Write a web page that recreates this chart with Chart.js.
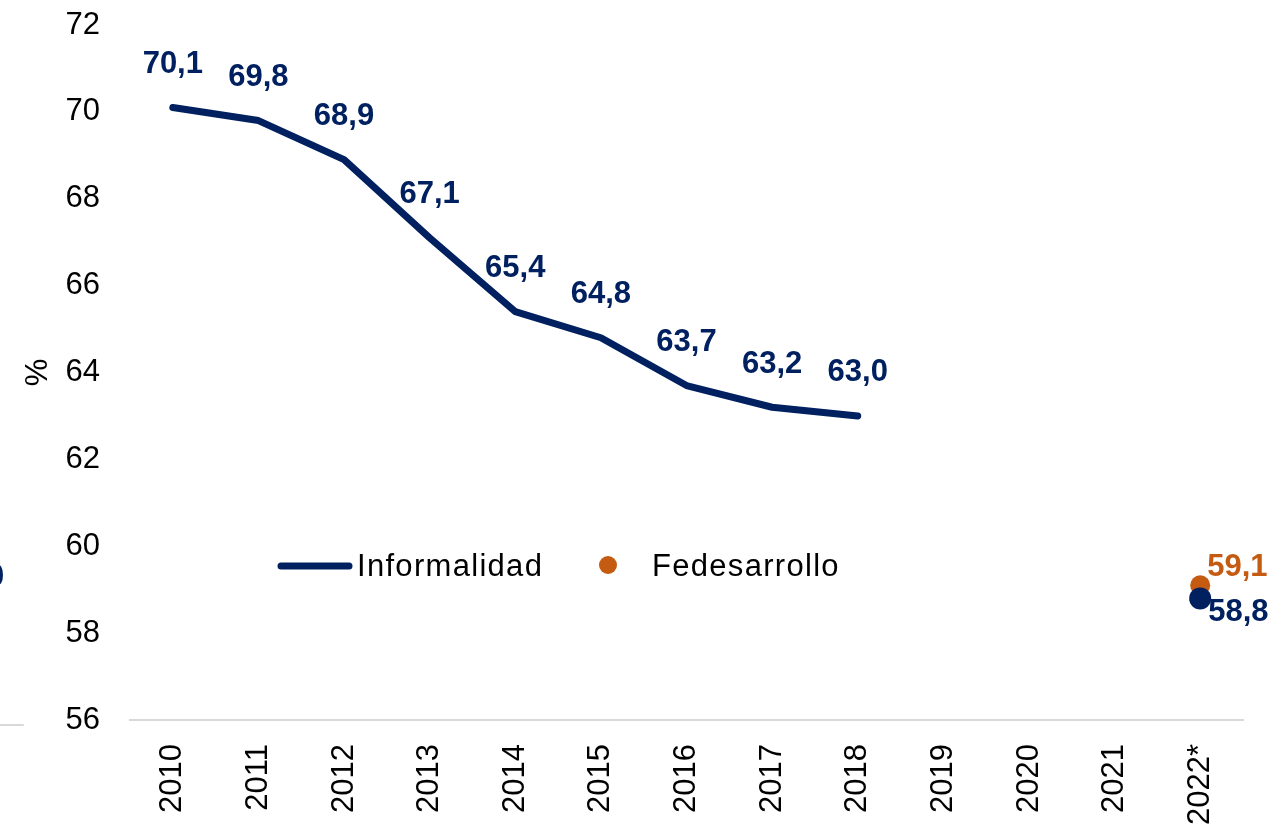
<!DOCTYPE html>
<html>
<head>
<meta charset="utf-8">
<script src="https://cdn.jsdelivr.net/npm/chart.js@4"></script>
<style>
html,body{margin:0;padding:0;background:#fff;}
</style>
</head>
<body>
<canvas id="chart" width="1288" height="835"></canvas>
<script>
// data
const years = ['2010','2011','2012','2013','2014','2015','2016','2017','2018','2019','2020','2021','2022*'];
const informalidad = [70.1, 69.8, 68.9, 67.1, 65.4, 64.8, 63.7, 63.2, 63.0, null, null, null, 58.8];
const fedesarrollo = [null, null, null, null, null, null, null, null, null, null, null, null, 59.1];
const yMin = 56, yMax = 72, yStep = 2;

const NAVY = '#002060';
const ORANGE = '#C55A11';
const FONT = '"Liberation Sans", Arial, sans-serif';

function fmt(v) {
    return v.toFixed(1).replace('.', ',');
}

// value labels (no datalabels plugin offline)
const valueLabels = {
    id: 'valueLabels',
    afterDatasetsDraw(chart) {
        const ctx = chart.ctx;
        ctx.save();
        ctx.font = 'bold 31px ' + FONT;
        chart.data.datasets.forEach((ds, i) => {
            const meta = chart.getDatasetMeta(i);
            ctx.fillStyle = ds.borderColor;
            meta.data.forEach((pt, j) => {
                const v = ds.data[j];
                if (v === null || v === undefined) return;
                const pos = ds.labelPos(j);
                ctx.textBaseline = 'middle';
                if (pos === 'above') {
                    ctx.textAlign = 'center';
                    ctx.fillText(fmt(v), pt.x, pt.y - 43);
                } else if (pos === 'rightBelow') {
                    ctx.textAlign = 'left';
                    ctx.fillText(fmt(v), pt.x + 8, pt.y + 14);
                } else {
                    ctx.textAlign = 'left';
                    ctx.fillText(fmt(v), pt.x + 7, pt.y - 18);
                }
            });
        });
        ctx.restore();
    }
};

// legend sits inside the plot area
const innerLegend = {
    id: 'innerLegend',
    afterDraw(chart) {
        const ctx = chart.ctx;
        const y = 566;
        ctx.save();
        ctx.lineCap = 'round';
        ctx.strokeStyle = NAVY;
        ctx.lineWidth = 7;
        ctx.beginPath();
        ctx.moveTo(281, y);
        ctx.lineTo(349, y);
        ctx.stroke();

        ctx.fillStyle = ORANGE;
        ctx.beginPath();
        ctx.arc(608, y - 1, 9, 0, Math.PI * 2);
        ctx.fill();

        ctx.font = '31px ' + FONT;
        ctx.letterSpacing = '1.3px';
        ctx.fillStyle = '#000';
        ctx.textAlign = 'left';
        ctx.textBaseline = 'middle';
        ctx.fillText('Informalidad', 357, y + 1);
        ctx.fillText('Fedesarrollo', 652, y + 1);

        // fragment of the neighbouring chart at the left edge
        ctx.letterSpacing = '0px';
        ctx.strokeStyle = '#d9d9d9';
        ctx.lineWidth = 2;
        ctx.beginPath();
        ctx.moveTo(0, 725);
        ctx.lineTo(23, 725);
        ctx.stroke();
        ctx.font = 'bold 31px ' + FONT;
        ctx.fillStyle = NAVY;
        ctx.fillText('0', -13, 577);
        ctx.restore();
    }
};

new Chart(document.getElementById('chart'), {
    type: 'line',
    data: {
        labels: years,
        datasets: [{
            label: 'Informalidad',
            data: informalidad,
            borderColor: NAVY,
            backgroundColor: NAVY,
            borderWidth: 7,
            borderCapStyle: 'round',
            borderJoinStyle: 'round',
            spanGaps: false,
            tension: 0,
            pointRadius: informalidad.map((v, i) => i === informalidad.length - 1 ? 11 : 0),
            pointBorderWidth: 0,
            pointHoverRadius: 0,
            labelPos: j => j === informalidad.length - 1 ? 'rightBelow' : 'above'
        }, {
            label: 'Fedesarrollo',
            data: fedesarrollo,
            borderColor: ORANGE,
            backgroundColor: ORANGE,
            showLine: false,
            pointRadius: 10,
            pointBorderWidth: 0,
            labelPos: j => 'rightAbove'
        }]
    },
    options: {
        responsive: false,
        animation: false,
        layout: { padding: { top: 25, right: 45, left: 0, bottom: 0 } },
        plugins: {
            legend: { display: false },
            tooltip: { enabled: false }
        },
        scales: {
            x: {
                offset: true,
                grid: { display: false, drawTicks: false },
                border: { display: true, color: '#d9d9d9', width: 2 },
                ticks: {
                    color: '#000',
                    font: { family: FONT, size: 31 },
                    minRotation: 90,
                    maxRotation: 90,
                    padding: 24,
                    autoSkip: false
                },
                afterFit: s => {
                    s.height = 115;
                    s.paddingLeft = 0;
                    s.paddingRight = 0;
                }
            },
            y: {
                min: yMin,
                max: yMax,
                grid: { display: false, drawTicks: false },
                border: { display: false },
                ticks: {
                    stepSize: yStep,
                    color: '#000',
                    font: { family: FONT, size: 31 },
                    padding: 30
                },
                title: {
                    display: true,
                    text: '%',
                    color: '#000',
                    font: { family: FONT, size: 31 },
                    padding: { top: 20, bottom: 0 }
                },
                afterFit: s => {
                    s.width = 130;
                    s.paddingTop = 0;
                    s.paddingBottom = 0;
                }
            }
        }
    },
    plugins: [valueLabels, innerLegend]
});
</script>
</body>
</html>
